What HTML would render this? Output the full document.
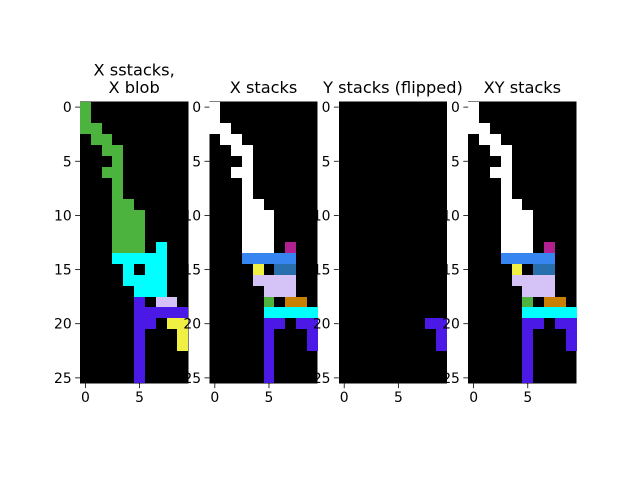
<!DOCTYPE html>
<html><head><meta charset="utf-8"><style>
html,body{margin:0;padding:0;background:#fff;}
svg text{font-family:"DejaVu Sans","Liberation Sans",sans-serif;}
</style></head><body>
<svg id="fig" width="640" height="480" xmlns="http://www.w3.org/2000/svg"></svg>
<script>
const titles = [["X sstacks,", " X blob"], ["X stacks"], ["Y stacks (flipped)"], ["XY stacks"]];
const xTicks = [0, 5];
const yTicks = [0, 5, 10, 15, 20, 25];
const grid1 = [
"G.........","G.........","GG........",".GG.......","..GG......","...G......","..GG......","...G......","...G......","...GG.....",
"...GGG....","...GGG....","...GGG....","...GGG.C..","...CCCCC..","....C.CC..","....CCCC..",".....CCC..",".....P.LL.",".....PPPPP",
".....PP.YY",".....P...Y",".....P...Y",".....P....",".....P....",".....P...."];
const grid2 = [
"W.........","W.........","WW........",".WW.......","..WW......","...W......","..WW......","...W......","...W......","...WW.....",
"...WWW....","...WWW....","...WWW....","...WWW.M..","...BBBBB..","....Y.SS..","....LLLL..",".....LLL..",".....G.OO.",".....CCCCC",
".....PP.PP",".....P...P",".....P...P",".....P....",".....P....",".....P...."];
const grid3 = [
"..........","..........","..........","..........","..........","..........","..........","..........","..........","..........",
"..........","..........","..........","..........","..........","..........","..........","..........","..........","..........",
"........PP",".........P",".........P","..........","..........",".........."];
const grid4 = grid2;
const grids = [grid1, grid2, grid3, grid4];
const palette = {'.':'#000000','W':'#ffffff','G':'#4bb33e','C':'#00ffff','P':'#4b19e6','L':'#d5c2f7','Y':'#f0f043','M':'#b3208f','B':'#3685f0','S':'#2a6fad','O':'#c98000'};

const svg = document.getElementById('fig');
const NS = 'http://www.w3.org/2000/svg';
const lefts = [80, 209.4, 338.8, 468.2];
const top0 = 101.7, cell = 10.83, nCols = 10, nRows = 26;
function mk(tag, attrs){const e=document.createElementNS(NS,tag);for(const k in attrs)e.setAttribute(k,attrs[k]);return e;}

grids.forEach((g, p) => {
  const L = lefts[p];
  const xs = c => L + (c + 0.5) * cell;
  const ys = r => top0 + (r + 0.5) * cell;
  const W = nCols * cell, H = nRows * cell;
  const ax = mk('g', {});
  
  
  svg.appendChild(ax);
  const img = mk('g', {'shape-rendering': 'crispEdges'});
  
  
  ax.appendChild(img);
  const bg = mk('rect', {x: L, y: top0, width: W, height: H, fill: '#000'});
  
  
  img.appendChild(bg);
  g.forEach((row, r) => {
    for (let c = 0; c < nCols; c++) {
      if (row[c] === '.') continue;
      const x0 = Math.round(xs(c) - cell / 2), x1 = Math.round(xs(c) + cell / 2);
      const y0 = Math.round(ys(r) - cell / 2), y1 = Math.round(ys(r) + cell / 2);
      const rect = mk('rect', {x: x0, y: y0, width: x1 - x0, height: y1 - y0, fill: palette[row[c]]});
      
      
      img.appendChild(rect);
    }
  });
  xTicks.forEach(t => {
    const x = xs(t);
    const tk = mk('line', {x1: x, x2: x, y1: top0 + H, y2: top0 + H + 4.9, stroke: '#000', 'stroke-width': 0.8});
    
    
    ax.appendChild(tk);
    const tx = mk('text', {x: x, y: top0 + H + 18.5, 'font-size': 13.9, 'text-anchor': 'middle', fill: '#000'});
    tx.textContent = t;
    
    
    ax.appendChild(tx);
  });
  yTicks.forEach(t => {
    const y = ys(t);
    const tk = mk('line', {x1: L - 4.9, x2: L, y1: y, y2: y, stroke: '#000', 'stroke-width': 0.8});
    
    
    ax.appendChild(tk);
    const tx = mk('text', {x: L - 8.3, y: y + 5, 'font-size': 13.9, 'text-anchor': 'end', fill: '#000'});
    tx.textContent = t;
    
    
    ax.appendChild(tx);
  });
  const lines = titles[p];
  lines.forEach((s, i) => {
    const tt = mk('text', {x: L + W / 2, y: 93 - (lines.length - 1 - i) * 17.5, 'font-size': 16.2, 'text-anchor': 'middle', fill: '#000'});
    tt.textContent = s;
    tt.setAttribute('xml:space', 'preserve');
    
    
    ax.appendChild(tt);
  });
});
</script>
</body></html>
